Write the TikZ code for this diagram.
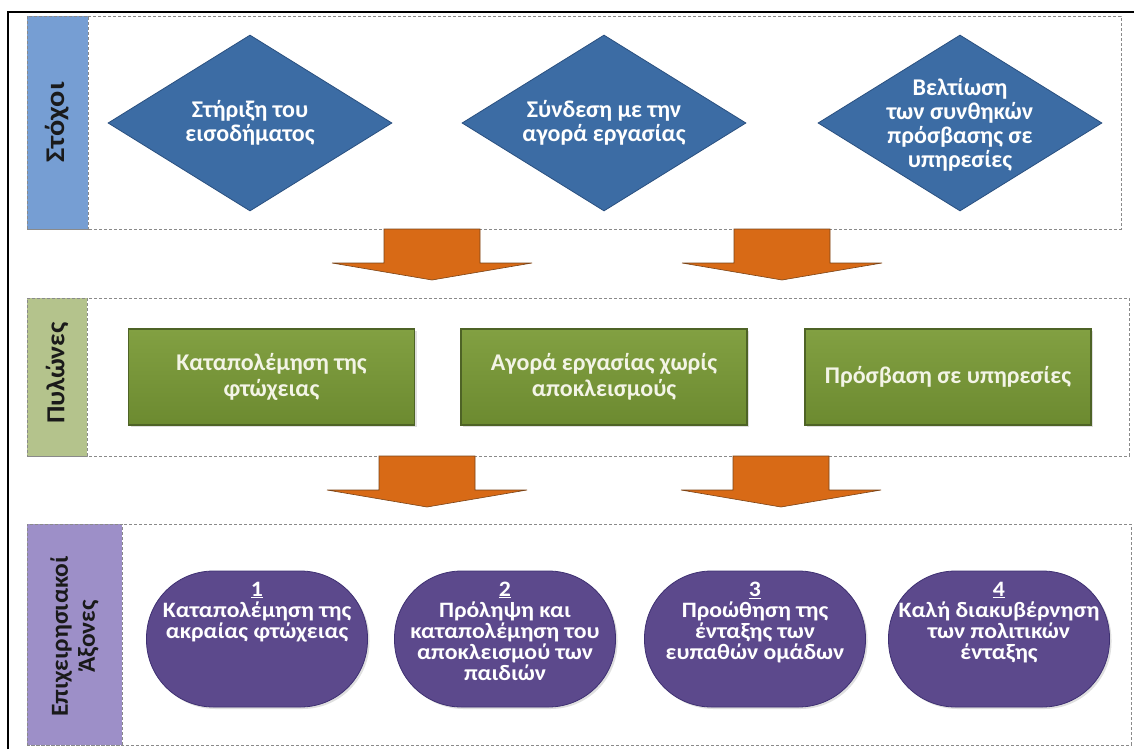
\documentclass[tikz,border=0pt]{standalone}
\usepackage{fontspec}
\setmainfont{Carlito}[BoldFont={Carlito Bold}]
\usetikzlibrary{shapes.geometric,shadows}
\definecolor{lblblue}{HTML}{769ED3}
\definecolor{lblgreen}{HTML}{B4C38C}
\definecolor{lblpurple}{HTML}{9D8FC8}
\definecolor{diafill}{HTML}{3C6CA4}
\definecolor{diadraw}{HTML}{2A5080}
\definecolor{gtop}{HTML}{82A042}
\definecolor{gbot}{HTML}{6C8A30}
\definecolor{gdraw}{HTML}{4E6326}
\definecolor{pillfill}{HTML}{5C498C}
\definecolor{pilldraw}{HTML}{3E3072}
\definecolor{arrfill}{HTML}{D86A16}
\definecolor{arrdraw}{HTML}{7A4418}
\definecolor{dashgray}{HTML}{8A8A8A}
\definecolor{gtext}{HTML}{F3F4E6}
\definecolor{lbltext}{HTML}{1A1A1A}
\newcommand\DownArr[4]{\draw[blockarrow] (#1-48,#2) -- (#1+48,#2) -- (#1+48,#3) -- (#1+100,#3) -- (#1,#4) -- (#1-100,#3) -- (#1-48,#3) -- cycle;}
\begin{document}
\begin{tikzpicture}[x=1pt,y=-1pt,
 section/.style={draw=dashgray, densely dashed, line width=0.8pt},
 sidebar/.style={rectangle, draw=dashgray, densely dashed, line width=0.8pt, inner sep=0pt},
 sidetext/.style={rotate=90, transform shape, inner sep=0pt, text=lbltext, align=center},
 goal/.style={diamond, aspect=1.61, minimum width=284pt, minimum height=176pt, inner sep=0pt, fill=diafill, draw=diadraw, line width=0.8pt},
 goaltext/.style={inner sep=0pt, text=white, font=\bfseries\fontsize{24}{24}\selectfont, align=center},
 pillar/.style={rectangle, minimum width=286pt, minimum height=96pt, top color=gtop, bottom color=gbot, draw=gdraw, line width=1.5pt, text=gtext, font=\bfseries\fontsize{24}{26}\selectfont, align=center, drop shadow={opacity=0.25, shadow xshift=2pt, shadow yshift=-2pt}},
 axispill/.style={rectangle, rounded corners=67pt, minimum width=221pt, minimum height=136pt, fill=pillfill, draw=pilldraw, line width=0.8pt, drop shadow={opacity=0.25, shadow xshift=2pt, shadow yshift=-2pt}},
 axtext/.style={xscale=1.08, transform shape, text=white, font=\bfseries\fontsize{22}{21}\selectfont, align=center, anchor=north, inner sep=0pt},
 blockarrow/.style={fill=arrfill, draw=arrdraw, line width=0.6pt, line join=miter}
]
\useasboundingbox (0,0) rectangle (1134,749);
\fill[white] (0,0) rectangle (1134,749);
% outer frame
\draw[line width=1.2pt, black] (8,749) -- (8,12) -- (1134,12);

% sections
\draw[section] (27,16) rectangle (1121,229);
\draw[section] (27,298) rectangle (1129,456);
\draw[section] (27,524) rectangle (1131,745);

% side labels
\node[sidebar, fill=lblblue, minimum width=61pt, minimum height=213pt] (lab1) at (57.5,122.5) {};
\node[sidetext, xscale=1.12, font=\bfseries\fontsize{27}{27}\selectfont] (lab1t) at (lab1) {Στόχοι};
\node[sidebar, fill=lblgreen, minimum width=60pt, minimum height=158pt] (lab2) at (57,377) {};
\node[sidetext, xscale=1.06, font=\bfseries\fontsize{26}{26}\selectfont] (lab2t) at ([yshift=4pt]lab2.center) {Πυλώνες};
\node[sidebar, fill=lblpurple, minimum width=95pt, minimum height=221pt] (lab3) at (74.5,634.5) {};
\node[sidetext, xscale=1.04, font=\bfseries\fontsize{24.5}{27}\selectfont] (lab3t) at ([yshift=-2pt]lab3.center) {Επιχειρησιακοί\\Άξονες};

% goals
\node[goal] (g1) at (250,123) {};
\node[goal] (g2) at (604,123) {};
\node[goal] (g3) at (960,123) {};
\node[goaltext] (g1t) at (g1) {Στήριξη του\\εισοδήματος};
\node[goaltext] (g2t) at (g2) {Σύνδεση με την\\αγορά εργασίας};
\node[goaltext] (g3t) at ([yshift=-2pt]g3.center) {Βελτίωση\\των συνθηκών\\πρόσβασης σε\\υπηρεσίες};

% arrows row 1
\DownArr{432}{229}{263}{280}
\DownArr{782}{229}{263}{280}

% pillars
\node[pillar] (p1) at (271.5,377) {Καταπολέμηση της\\φτώχειας};
\node[pillar] (p2) at (604,377) {Αγορά εργασίας χωρίς\\αποκλεισμούς};
\node[pillar] (p3) at (948,377) {Πρόσβαση σε υπηρεσίες};

% arrows row 2
\DownArr{427}{456}{490}{507}
\DownArr{781}{456}{490}{507}

% axes
\node[axispill] (a1) at (257,639) {};
\node[axispill] (a2) at (505,639) {};
\node[axispill] (a3) at (755,639) {};
\node[axispill] (a4) at (999,639) {};
\node[axtext] (t1) at ([yshift=-11pt]a1.north) {\underline{1}\\Καταπολέμηση της\\ακραίας φτώχειας};
\node[axtext] (t2) at ([yshift=-11pt]a2.north) {\underline{2}\\Πρόληψη και\\καταπολέμηση του\\αποκλεισμού των\\παιδιών};
\node[axtext] (t3) at ([yshift=-11pt]a3.north) {\underline{3}\\Προώθηση της\\ένταξης των\\ευπαθών ομάδων};
\node[axtext] (t4) at ([yshift=-11pt]a4.north) {\underline{4}\\Καλή διακυβέρνηση\\των πολιτικών\\ένταξης};
\end{tikzpicture}
\end{document}
